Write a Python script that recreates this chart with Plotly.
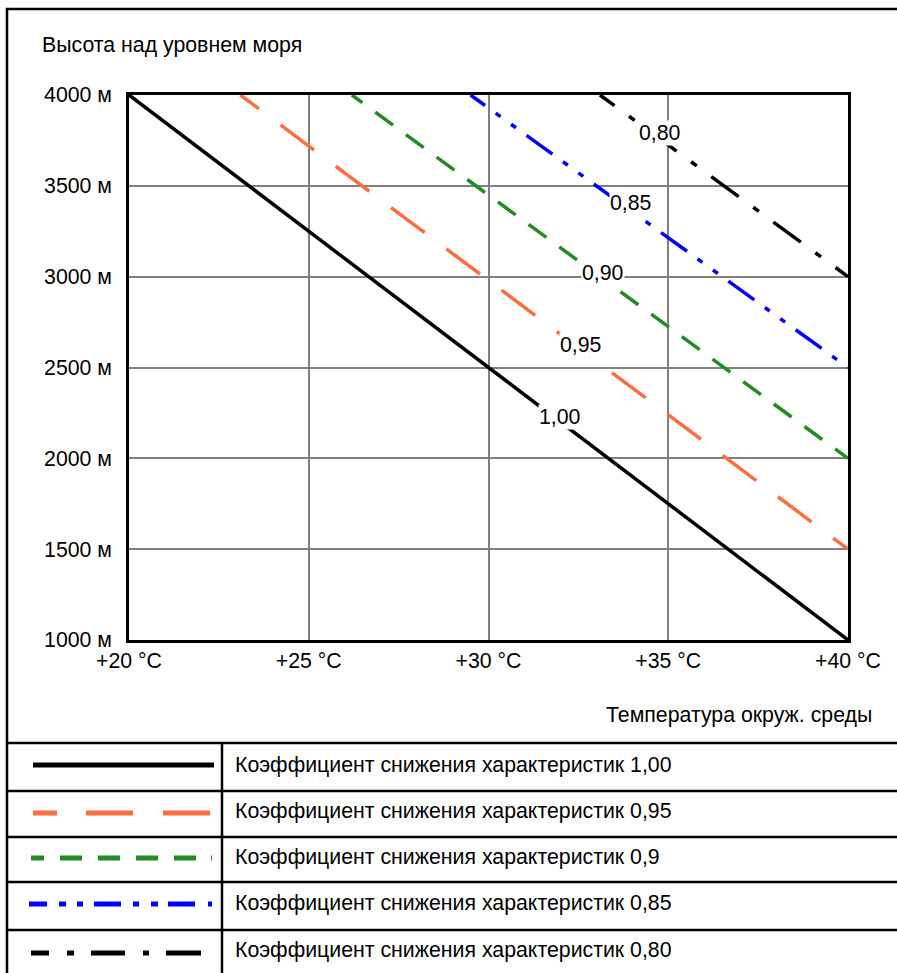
import plotly.graph_objects as go

# Values
x_ticks = [20, 25, 30, 35, 40]
x_tick_labels = ["+20 °C", "+25 °C", "+30 °C", "+35 °C", "+40 °C"]
y_ticks = [1000, 1500, 2000, 2500, 3000, 3500, 4000]
y_tick_labels = ["1000 м", "1500 м", "2000 м", "2500 м", "3000 м", "3500 м", "4000 м"]

factors = ["1,00", "0,95", "0,90", "0,85", "0,80"]
legend_names = ["1,00", "0,95", "0,9", "0,85", "0,80"]
temp_start = [20, 23.1, 26.2, 29.5, 33.1]
temp_end = [40, 40, 40, 40, 40]
alt_start = [4000, 4000, 4000, 4000, 4000]
alt_end = [1000, 1500, 2000, 2500, 3000]

# where the factor labels sit on the lines
label_x = [31.99, 32.55, 33.19, 33.94, 34.77]
label_y = [2228, 2624, 3020, 3406, 3791]

colors = ["#000000", "#FF6E40", "#228B22", "#0000FF", "#000000"]


def dash(first, base, n=20):
    # partial first segment, then the repeating pattern
    seq = first + base * n
    return ",".join(f"{v}px" for v in seq)


chart_dash = [
    "solid",
    dash([23, 27], [42, 27]),
    dash([13, 16], [22, 16]),
    dash([18, 13, 6, 13, 6, 13], [32, 13, 6, 13, 6, 13]),
    dash([18, 18, 7, 18], [34, 18, 7, 18]),
]
legend_dash = [
    "solid",
    "24px,29px,47px,30px,47px,30px",
    "13px,16px,22px,16px,22px,16px,22px,16px,22px,15px,2px,40px",
    "18px,12px,7px,11px,6px,11px,27px,12px,6px,12px,7px,10px,27px,13px,5px,40px",
    "18px,18px,7px,17px,34px,18px,6px,17px,35px,40px",
]

W, H = 897, 973
L, R, T, B = 129, 848, 95, 640
FS = 21.3


def px(x):
    return (x - L) / (R - L)


def py(y):
    return (B - y) / (B - T)


fig = go.Figure()
for i in range(len(factors)):
    fig.add_trace(go.Scatter(
        x=[temp_start[i], temp_end[i]],
        y=[alt_start[i], alt_end[i]],
        mode="lines",
        line=dict(color=colors[i], width=3.5, dash=chart_dash[i]),
        showlegend=False,
        hoverinfo="skip",
    ))
    fig.add_annotation(
        x=label_x[i], y=label_y[i], text=factors[i], showarrow=False,
        bgcolor="white", borderpad=0, font=dict(size=FS, color="black"),
    )

shapes = []
# outer frame
shapes.append(dict(type="rect", xref="paper", yref="paper",
                   x0=px(7), x1=px(W + 10), y0=py(9), y1=py(H + 10),
                   line=dict(color="black", width=2.5)))
# table rows
rows = [743, 791, 837, 882, 930]
for r in rows:
    shapes.append(dict(type="line", xref="paper", yref="paper",
                       x0=px(7), x1=px(W + 10), y0=py(r), y1=py(r),
                       line=dict(color="black", width=2.5)))
shapes.append(dict(type="line", xref="paper", yref="paper",
                   x0=px(222), x1=px(222), y0=py(743), y1=py(H + 10),
                   line=dict(color="black", width=2.5)))

sample_y = [765, 813, 858, 904, 953]
sample_x0 = [33, 33, 31, 29, 31]
sample_x1 = [214, 210, 212, 212, 202]
text_y = [765, 811, 857, 903, 950]
for i in range(len(factors)):
    shapes.append(dict(type="line", xref="paper", yref="paper",
                       x0=px(sample_x0[i]), x1=px(sample_x1[i]),
                       y0=py(sample_y[i]), y1=py(sample_y[i]),
                       line=dict(color=colors[i], width=5, dash=legend_dash[i])))
    fig.add_annotation(
        xref="paper", yref="paper", x=px(233), y=py(text_y[i]),
        xanchor="left", yanchor="middle", showarrow=False,
        text="Коэффициент снижения характеристик " + legend_names[i],
        font=dict(size=FS, color="black"),
    )

fig.add_annotation(xref="paper", yref="paper", x=px(40), y=py(45),
                   xanchor="left", yanchor="middle", showarrow=False,
                   text="Высота над уровнем моря", font=dict(size=FS, color="black"))
fig.add_annotation(xref="paper", yref="paper", x=px(874), y=py(715),
                   xanchor="right", yanchor="middle", showarrow=False,
                   text="Температура окруж. среды", font=dict(size=FS, color="black"))

fig.update_layout(
    width=W, height=H,
    margin=dict(l=L, r=W - R, t=T, b=H - B),
    paper_bgcolor="white", plot_bgcolor="white",
    font=dict(family="Liberation Sans, Arial, sans-serif", size=FS, color="black"),
    shapes=shapes,
    showlegend=False,
)
fig.update_xaxes(
    range=[20, 40], tickvals=x_ticks, ticktext=x_tick_labels,
    showgrid=True, gridcolor="#808080", gridwidth=2,
    showline=True, linecolor="black", linewidth=2.5, mirror=True,
    zeroline=False, ticks="", ticklabelstandoff=0,
)
fig.update_yaxes(
    range=[1000, 4000], tickvals=y_ticks, ticktext=y_tick_labels,
    showgrid=True, gridcolor="#808080", gridwidth=2,
    showline=True, linecolor="black", linewidth=2.5, mirror=True,
    zeroline=False, ticks="", ticklabelstandoff=10,
)

# drop the page's default body margin so the figure fills the window exactly
fig.write_html("out.html", config={"displayModeBar": False},
               post_script="document.body.style.margin='0';")
